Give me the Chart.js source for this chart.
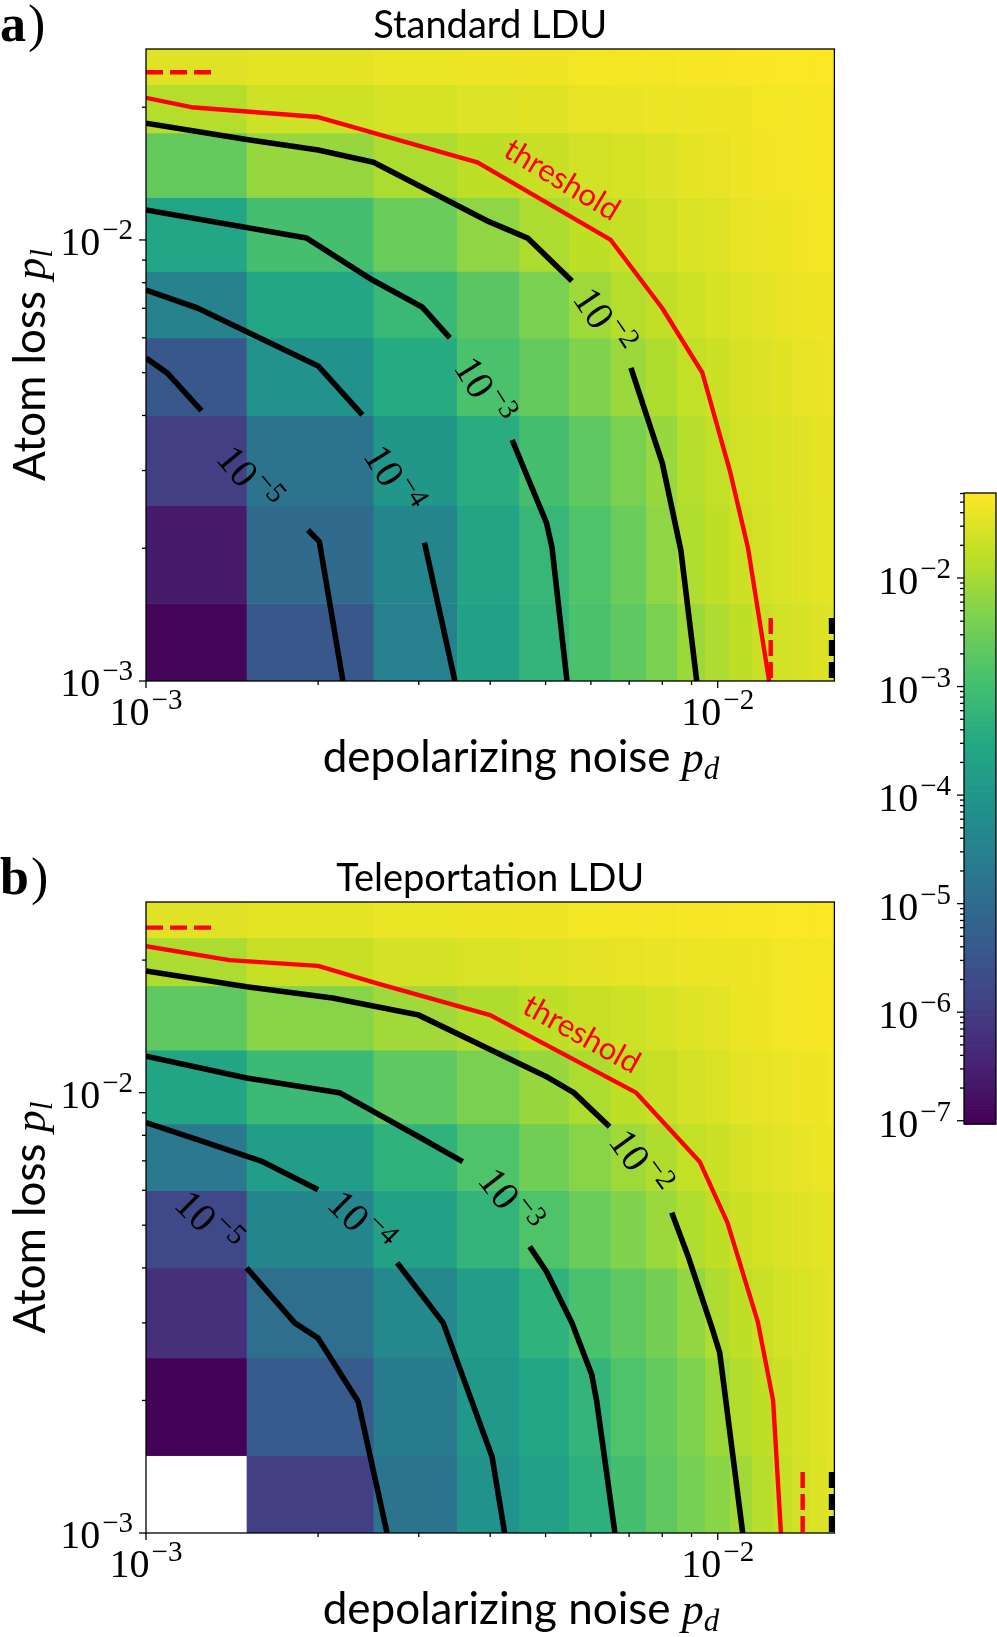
<!DOCTYPE html>
<html>
<head>
<meta charset="utf-8">
<title>Standard vs Teleportation LDU</title>
<script src="https://cdn.jsdelivr.net/npm/chart.js@4.4.1/dist/chart.umd.min.js"></script>
<style>
  html, body { margin: 0; padding: 0; background: #fff; }
  body { position: relative; width: 997px; height: 1637px; overflow: hidden; }
  .panel { position: absolute; }
</style>
</head>
<body>
<div class="panel" style="left:0;top:0;width:850px;height:800px"><canvas id="chartA"></canvas></div>
<div class="panel" style="left:0;top:820px;width:850px;height:817px"><canvas id="chartB"></canvas></div>
<div class="panel" style="left:850px;top:460px;width:147px;height:700px"><canvas id="chartC"></canvas></div>
<script>
// simulated grid: depolarizing noise p_d (columns) and atom loss p_l (rows)
const pdValues = [0.001, 0.002, 0.003, 0.004, 0.005, 0.006, 0.007, 0.008,
                  0.009, 0.010, 0.011, 0.012, 0.013, 0.014, 0.015, 0.016];
const plValues = [0.001, 0.002, 0.003, 0.005, 0.007, 0.010, 0.015, 0.020, 0.025];

// log10 of the logical error rate, one row per p_l (bottom row first)
const logErrStandard = [
  [-6.94, -5.44, -4.51, -3.71, -3.24, -2.90, -2.67, -2.38, -2.08, -1.93, -1.78, -1.69, -1.63, -1.57, -1.52, -1.49],
  [-6.60, -5.03, -4.40, -3.65, -3.19, -2.84, -2.55, -2.20, -1.90, -1.79, -1.66, -1.60, -1.54, -1.50, -1.46, -1.43],
  [-5.96, -4.80, -3.97, -3.42, -2.95, -2.67, -2.38, -2.12, -1.87, -1.76, -1.63, -1.57, -1.52, -1.48, -1.44, -1.41],
  [-5.44, -4.11, -3.47, -2.90, -2.61, -2.32, -2.09, -1.91, -1.76, -1.67, -1.56, -1.52, -1.47, -1.43, -1.40, -1.37],
  [-4.46, -3.59, -3.13, -2.72, -2.38, -2.06, -1.88, -1.77, -1.64, -1.58, -1.49, -1.45, -1.41, -1.38, -1.36, -1.34],
  [-3.59, -2.95, -2.55, -2.20, -1.94, -1.80, -1.71, -1.62, -1.53, -1.49, -1.41, -1.38, -1.35, -1.33, -1.31, -1.30],
  [-2.61, -2.14, -1.94, -1.80, -1.71, -1.62, -1.57, -1.52, -1.44, -1.41, -1.36, -1.33, -1.32, -1.30, -1.28, -1.26],
  [-1.88, -1.65, -1.57, -1.51, -1.47, -1.43, -1.40, -1.38, -1.36, -1.35, -1.34, -1.32, -1.31, -1.30, -1.28, -1.28],
  [-1.48, -1.44, -1.39, -1.36, -1.34, -1.32, -1.30, -1.29, -1.28, -1.27, -1.25, -1.25, -1.24, -1.24, -1.23, -1.22]
];
const logErrTeleport = [
  [null,  -5.96, -4.80, -4.11, -3.71, -3.36, -2.95, -2.67, -2.42, -2.25, -2.04, -1.86, -1.72, -1.60, -1.52, -1.46],
  [-7.00, -5.38, -4.63, -3.94, -3.59, -3.24, -2.84, -2.61, -2.34, -2.10, -1.89, -1.78, -1.66, -1.57, -1.50, -1.46],
  [-6.25, -4.92, -4.34, -3.82, -3.30, -2.90, -2.67, -2.43, -2.16, -1.93, -1.78, -1.69, -1.60, -1.54, -1.49, -1.44],
  [-5.79, -4.40, -3.73, -3.24, -2.84, -2.55, -2.32, -2.09, -1.90, -1.79, -1.66, -1.59, -1.53, -1.49, -1.45, -1.41],
  [-4.69, -3.82, -3.30, -2.84, -2.49, -2.26, -2.06, -1.91, -1.76, -1.67, -1.56, -1.50, -1.46, -1.42, -1.39, -1.36],
  [-3.62, -3.10, -2.67, -2.38, -2.12, -1.94, -1.80, -1.71, -1.60, -1.54, -1.46, -1.42, -1.39, -1.36, -1.34, -1.31],
  [-2.67, -2.26, -2.05, -1.91, -1.80, -1.71, -1.64, -1.58, -1.50, -1.46, -1.38, -1.35, -1.32, -1.30, -1.28, -1.26],
  [-1.94, -1.71, -1.60, -1.54, -1.50, -1.46, -1.43, -1.40, -1.38, -1.36, -1.35, -1.34, -1.32, -1.31, -1.30, -1.28],
  [-1.48, -1.44, -1.39, -1.36, -1.34, -1.32, -1.30, -1.29, -1.28, -1.27, -1.25, -1.25, -1.24, -1.24, -1.23, -1.22]
];

// contour lines [p_d, p_l]; split where the inline label sits
const thresholdA = [[1.0e-3, 2.10e-2], [1.2e-3, 2.0e-2], [2.0e-3, 1.90e-2], [2.5e-3, 1.75e-2], [3.8e-3, 1.5e-2],
  [6.5e-3, 1.0e-2], [8.0e-3, 7.0e-3], [9.4e-3, 5.0e-3], [1.05e-2, 3.0e-3], [1.13e-2, 2.0e-3], [1.23e-2, 1.0e-3]];
const c2A_1 = [[1.0e-3, 1.84e-2], [1.5e-3, 1.69e-2], [2.0e-3, 1.6e-2], [2.5e-3, 1.5e-2], [3.98e-3, 1.10e-2], [4.65e-3, 1.01e-2], [5.56e-3, 8.07e-3]];
const c2A_2 = [[7.05e-3, 5.13e-3], [8.0e-3, 3.12e-3], [8.62e-3, 1.98e-3], [9.19e-3, 1.0e-3]];
const c3A_1 = [[1.0e-3, 1.17e-2], [1.91e-3, 1.01e-2], [2.49e-3, 8.11e-3], [3.04e-3, 7.05e-3], [3.40e-3, 6.0e-3]];
const c3A_2 = [[4.37e-3, 3.52e-3], [5.02e-3, 2.28e-3], [5.13e-3, 2.01e-3], [5.45e-3, 1.0e-3]];
const c4A_1 = [[1.0e-3, 7.70e-3], [1.23e-3, 7.01e-3], [2.0e-3, 5.18e-3], [2.39e-3, 4.01e-3]];
const c4A_2 = [[3.07e-3, 2.06e-3], [3.47e-3, 1.0e-3]];
const c5A_1 = [[1.0e-3, 5.40e-3], [1.09e-3, 4.99e-3], [1.25e-3, 4.10e-3]];
const c5A_2 = [[1.92e-3, 2.20e-3], [2.01e-3, 2.07e-3], [2.21e-3, 1.0e-3]];

const thresholdB = [[1.0e-3, 2.15e-2], [1.4e-3, 2.0e-2], [2.0e-3, 1.94e-2], [2.5e-3, 1.78e-2], [4.0e-3, 1.5e-2],
  [7.2e-3, 1.0e-2], [9.3e-3, 6.97e-3], [1.04e-2, 5.07e-3], [1.175e-2, 3.02e-3], [1.25e-2, 2.0e-3], [1.29e-2, 1.0e-3]];
const c2B_1 = [[1.0e-3, 1.89e-2], [1.5e-3, 1.74e-2], [2.12e-3, 1.64e-2], [3.0e-3, 1.5e-2], [5.0e-3, 1.09e-2], [5.6e-3, 1.0e-2], [6.47e-3, 8.37e-3]];
const c2B_2 = [[8.31e-3, 5.34e-3], [8.86e-3, 4.28e-3], [9.76e-3, 2.94e-3], [1.008e-2, 2.57e-3], [1.106e-2, 1.0e-3]];
const c3B_1 = [[1.0e-3, 1.21e-2], [1.5e-3, 1.08e-2], [2.18e-3, 1.0e-2], [3.0e-3, 7.94e-3], [3.58e-3, 6.97e-3]];
const c3B_2 = [[4.69e-3, 4.47e-3], [5.02e-3, 3.92e-3], [5.56e-3, 3.0e-3], [6.02e-3, 2.29e-3], [6.14e-3, 2.0e-3], [6.61e-3, 1.0e-3]];
const c4B_1 = [[1.0e-3, 8.55e-3], [1.23e-3, 7.82e-3], [1.6e-3, 6.97e-3], [2.0e-3, 6.02e-3]];
const c4B_2 = [[2.75e-3, 4.11e-3], [3.31e-3, 3.0e-3], [4.03e-3, 1.49e-3], [4.24e-3, 1.0e-3]];
const c5B = [[1.5e-3, 4.0e-3], [1.82e-3, 3.0e-3], [2.0e-3, 2.77e-3], [2.35e-3, 1.99e-3], [2.64e-3, 1.0e-3]];

// single-noise thresholds (dashed markers)
const lossOnlyA = [[1.0e-3, 2.40e-2], [1.315e-3, 2.40e-2]];
const depolOnlyA = [[1.238e-2, 1.39e-3], [1.238e-2, 1.0e-3]];
const depolOnly1A = [[1.582e-2, 1.39e-3], [1.582e-2, 1.0e-3]];
const lossOnlyB = [[1.0e-3, 2.37e-2], [1.315e-3, 2.37e-2]];
const depolOnlyB = [[1.408e-2, 1.376e-3], [1.408e-2, 1.0e-3]];
const depolOnly1B = [[1.582e-2, 1.376e-3], [1.582e-2, 1.0e-3]];

const cbarMin = 9.33e-8, cbarMax = 0.0607;

const SANS = 'Lato, "Open Sans", sans-serif';
const SERIF = '"Liberation Serif", "DejaVu Serif", serif';

const viridis = [[68,1,84],[72,36,117],[65,68,135],[53,95,141],[42,120,142],[33,145,140],
                 [34,168,132],[68,191,112],[122,209,81],[189,223,38],[253,231,37]];
function viridisColor(t) {
  t = Math.min(1, Math.max(0, t));
  const s = t * 10, i = Math.min(9, Math.floor(s)), f = s - i;
  const a = viridis[i], b = viridis[i + 1];
  return 'rgb(' + [0, 1, 2].map(k => Math.round(a[k] + (b[k] - a[k]) * f)).join(',') + ')';
}
const LMIN = Math.log10(cbarMin), LMAX = Math.log10(cbarMax);
const colorFor = lv => viridisColor((lv - LMIN) / (LMAX - LMIN));

function edges(c) {
  const e = [c[0] - (c[1] - c[0]) / 2];
  for (let i = 0; i < c.length - 1; i++) e.push((c[i] + c[i + 1]) / 2);
  e.push(c[c.length - 1] + (c[c.length - 1] - c[c.length - 2]) / 2);
  return e;
}

function tickInfo(v) {
  const e = Math.floor(Math.log10(v) + 1e-9);
  const m = v / Math.pow(10, e);
  if (Math.abs(m - Math.round(m)) > 1e-6) return null;
  return { exp: e, major: Math.round(m) === 1 };
}

function drawPow10(ctx, exp, x, y, align) {
  ctx.font = '40px ' + SERIF;
  const w1 = ctx.measureText('10').width;
  ctx.font = '29px ' + SERIF;
  const sup = '\u2212' + Math.abs(exp);
  const w2 = ctx.measureText(sup).width + 2;
  let x0 = x;
  if (align === 'center') x0 = x - (w1 + w2) / 2;
  if (align === 'right') x0 = x - (w1 + w2);
  ctx.textAlign = 'left';
  ctx.textBaseline = 'alphabetic';
  ctx.font = '40px ' + SERIF;
  ctx.fillText('10', x0, y);
  ctx.font = '29px ' + SERIF;
  ctx.fillText(sup, x0 + w1 + 2, y - 16);
}

function drawMathLabel(ctx, text, sym, sub, x, y) {
  const fSans = '44px ' + SANS, fIt = 'italic 44px ' + SERIF, fSub = 'italic 31px ' + SERIF;
  ctx.font = fSans; const w1 = ctx.measureText(text).width;
  ctx.font = fIt; const w2 = ctx.measureText(sym).width;
  ctx.font = fSub; const w3 = ctx.measureText(sub).width;
  const x0 = x - (w1 + w2 + w3) / 2;
  ctx.textAlign = 'left';
  ctx.textBaseline = 'alphabetic';
  ctx.font = fSans; ctx.fillText(text, x0, y);
  ctx.font = fIt; ctx.fillText(sym, x0 + w1, y);
  ctx.font = fSub; ctx.fillText(sub, x0 + w1 + w2, y + 7);
}

function tickLine(ctx, x0, y0, x1, y1) {
  ctx.beginPath(); ctx.moveTo(x0, y0); ctx.lineTo(x1, y1); ctx.stroke();
}

function makePanelPlugin(cfg) {
  return {
    id: 'panel' + cfg.letter,
    beforeDatasetsDraw(chart) {
      const { ctx, chartArea: a, scales: { x, y } } = chart;
      const xe = edges(pdValues), ye = edges(plValues);
      ctx.save();
      ctx.beginPath();
      ctx.rect(a.left, a.top, a.right - a.left, a.bottom - a.top);
      ctx.clip();
      cfg.grid.forEach((row, j) => row.forEach((lv, i) => {
        if (lv === null) return;
        const x0 = x.getPixelForValue(xe[i]), x1 = x.getPixelForValue(xe[i + 1]);
        const y0 = y.getPixelForValue(ye[j]), y1 = y.getPixelForValue(ye[j + 1]);
        ctx.fillStyle = colorFor(lv);
        ctx.fillRect(Math.min(x0, x1), Math.min(y0, y1), Math.abs(x1 - x0) + 0.5, Math.abs(y1 - y0) + 0.5);
      }));
      ctx.restore();
    },
    afterDraw(chart) {
      const { ctx, chartArea: a, scales: { x, y } } = chart;
      ctx.save();
      ctx.strokeStyle = '#000';
      ctx.fillStyle = '#000';
      ctx.lineWidth = 1.3;
      ctx.strokeRect(a.left, a.top, a.right - a.left, a.bottom - a.top);

      x.ticks.forEach(t => {
        const info = tickInfo(t.value);
        if (!info) return;
        const px = x.getPixelForValue(t.value);
        tickLine(ctx, px, a.bottom, px, a.bottom + (info.major ? 7 : 4));
        if (info.major) drawPow10(ctx, info.exp, px, a.bottom + 44, 'center');
      });
      y.ticks.forEach(t => {
        const info = tickInfo(t.value);
        if (!info) return;
        const py = y.getPixelForValue(t.value);
        tickLine(ctx, a.left, py, a.left - (info.major ? 7 : 4), py);
        if (info.major) drawPow10(ctx, info.exp, a.left - 13, py + 15, 'right');
      });

      // inline contour labels
      cfg.labels.forEach(l => {
        ctx.save();
        ctx.translate(x.getPixelForValue(l.at[0]), y.getPixelForValue(l.at[1]));
        ctx.rotate(l.angle * Math.PI / 180);
        ctx.fillStyle = '#000';
        drawPow10(ctx, l.exp, 0, 14, 'center');
        ctx.restore();
      });

      // threshold label
      ctx.save();
      ctx.translate(x.getPixelForValue(cfg.thrLabel.at[0]), y.getPixelForValue(cfg.thrLabel.at[1]));
      ctx.rotate(cfg.thrLabel.angle * Math.PI / 180);
      ctx.fillStyle = '#ff0000';
      ctx.font = '31px ' + SANS;
      ctx.textAlign = 'center';
      ctx.textBaseline = 'middle';
      ctx.fillText('threshold', 0, 0);
      ctx.restore();

      // title
      ctx.fillStyle = '#000';
      ctx.font = '38px ' + SANS;
      ctx.textAlign = 'center';
      ctx.textBaseline = 'alphabetic';
      ctx.fillText(cfg.title, (a.left + a.right) / 2, a.top - 11);

      // axis labels
      drawMathLabel(ctx, 'depolarizing noise ', 'p', 'd', a.left + 375, a.bottom + 91);
      ctx.save();
      ctx.translate(45, (a.top + a.bottom) / 2);
      ctx.rotate(-Math.PI / 2);
      drawMathLabel(ctx, 'Atom loss ', 'p', 'l', 0, 0);
      ctx.restore();

      // panel letter
      ctx.textAlign = 'left';
      ctx.font = 'bold 52px ' + SERIF;
      const lw = ctx.measureText(cfg.letter).width;
      ctx.fillText(cfg.letter, 0, a.top - 8);
      ctx.font = '52px ' + SERIF;
      ctx.fillText(')', lw + 2, a.top - 8);
      ctx.restore();
    }
  };
}

const toPts = arr => arr.map(([x, y]) => ({ x, y }));
function lineSet(pts, color, width, dash) {
  return {
    data: toPts(pts), showLine: true, borderColor: color, borderWidth: width,
    borderDash: dash || [], pointRadius: 0, pointHoverRadius: 0, fill: false,
    tension: 0, clip: 0, borderCapStyle: 'butt', borderJoinStyle: 'round'
  };
}

function panelOptions(pad) {
  return {
    responsive: true, maintainAspectRatio: false, animation: false, devicePixelRatio: 1,
    events: [],
    layout: { padding: pad },
    plugins: { legend: { display: false }, tooltip: { enabled: false }, title: { display: false } },
    scales: {
      x: {
        type: 'logarithmic', min: 0.001, max: 0.016,
        grid: { display: false }, border: { display: false }, ticks: { display: false },
        afterFit: s => { s.height = 0; }
      },
      y: {
        type: 'logarithmic', min: 0.001, max: 0.0271,
        grid: { display: false }, border: { display: false }, ticks: { display: false },
        afterFit: s => { s.width = 0; }
      }
    }
  };
}

const RED = '#ff0000', BLACK = '#000000';
const LW = 5.6, RW = 4.4;

new Chart(document.getElementById('chartA'), {
  type: 'scatter',
  data: {
    datasets: [
      lineSet(c5A_1, BLACK, LW), lineSet(c5A_2, BLACK, LW),
      lineSet(c4A_1, BLACK, LW), lineSet(c4A_2, BLACK, LW),
      lineSet(c3A_1, BLACK, LW), lineSet(c3A_2, BLACK, LW),
      lineSet(c2A_1, BLACK, LW), lineSet(c2A_2, BLACK, LW),
      lineSet(thresholdA, RED, RW),
      lineSet(lossOnlyA, RED, RW, [17, 7]),
      lineSet(depolOnlyA, RED, RW, [16, 6]),
      lineSet(depolOnly1A, BLACK, LW, [16, 6])
    ]
  },
  options: panelOptions({ left: 146, right: 15.6, top: 49, bottom: 119 }),
  plugins: [makePanelPlugin({
    letter: 'a', title: 'Standard LDU', grid: logErrStandard,
    labels: [
      { exp: -2, at: [6.32e-3, 6.55e-3], angle: 56 },
      { exp: -3, at: [3.90e-3, 4.55e-3], angle: 58 },
      { exp: -4, at: [2.71e-3, 2.87e-3], angle: 58 },
      { exp: -5, at: [1.513e-3, 2.885e-3], angle: 50 }
    ],
    thrLabel: { at: [5.34e-3, 1.368e-2], angle: 31 }
  })]
});

new Chart(document.getElementById('chartB'), {
  type: 'scatter',
  data: {
    datasets: [
      lineSet(c5B, BLACK, LW),
      lineSet(c4B_1, BLACK, LW), lineSet(c4B_2, BLACK, LW),
      lineSet(c3B_1, BLACK, LW), lineSet(c3B_2, BLACK, LW),
      lineSet(c2B_1, BLACK, LW), lineSet(c2B_2, BLACK, LW),
      lineSet(thresholdB, RED, RW),
      lineSet(lossOnlyB, RED, RW, [17, 7]),
      lineSet(depolOnlyB, RED, RW, [16, 6]),
      lineSet(depolOnly1B, BLACK, LW, [16, 6])
    ]
  },
  options: panelOptions({ left: 146, right: 15.6, top: 82, bottom: 104 }),
  plugins: [makePanelPlugin({
    letter: 'b', title: 'Teleportation LDU', grid: logErrTeleport,
    labels: [
      { exp: -2, at: [7.31e-3, 6.93e-3], angle: 54 },
      { exp: -3, at: [4.33e-3, 5.68e-3], angle: 52 },
      { exp: -4, at: [2.376e-3, 5.09e-3], angle: 45 },
      { exp: -5, at: [1.284e-3, 5.09e-3], angle: 45 }
    ],
    thrLabel: { at: [5.78e-3, 1.355e-2], angle: 29 }
  })]
});

const colorbarPlugin = {
  id: 'colorbar',
  beforeDatasetsDraw(chart) {
    const { ctx, chartArea: a, scales: { y } } = chart;
    const n = 400;
    for (let k = 0; k < n; k++) {
      const l0 = LMIN + (LMAX - LMIN) * k / n, l1 = LMIN + (LMAX - LMIN) * (k + 1) / n;
      const p0 = y.getPixelForValue(Math.pow(10, l0)), p1 = y.getPixelForValue(Math.pow(10, l1));
      ctx.fillStyle = viridisColor((k + 0.5) / n);
      ctx.fillRect(a.left, p1, a.right - a.left, p0 - p1 + 0.7);
    }
  },
  afterDraw(chart) {
    const { ctx, chartArea: a, scales: { y } } = chart;
    ctx.save();
    ctx.strokeStyle = '#000';
    ctx.fillStyle = '#000';
    ctx.lineWidth = 1.3;
    ctx.strokeRect(a.left, a.top, a.right - a.left, a.bottom - a.top);
    y.ticks.forEach(t => {
      const info = tickInfo(t.value);
      if (!info) return;
      const py = y.getPixelForValue(t.value);
      tickLine(ctx, a.left, py, a.left - (info.major ? 7 : 4), py);
      if (info.major) drawPow10(ctx, info.exp, a.left - 13, py + 16, 'right');
    });
    ctx.restore();
  }
};

new Chart(document.getElementById('chartC'), {
  type: 'scatter',
  data: { datasets: [] },
  options: {
    responsive: true, maintainAspectRatio: false, animation: false, devicePixelRatio: 1,
    events: [],
    layout: { padding: { left: 114, right: 1, top: 33, bottom: 36 } },
    plugins: { legend: { display: false }, tooltip: { enabled: false } },
    scales: {
      x: { type: 'linear', display: false, min: 0, max: 1 },
      y: {
        type: 'logarithmic', min: cbarMin, max: cbarMax,
        grid: { display: false }, border: { display: false }, ticks: { display: false },
        afterFit: s => { s.width = 0; }
      }
    }
  },
  plugins: [colorbarPlugin]
});
</script>
</body>
</html>
